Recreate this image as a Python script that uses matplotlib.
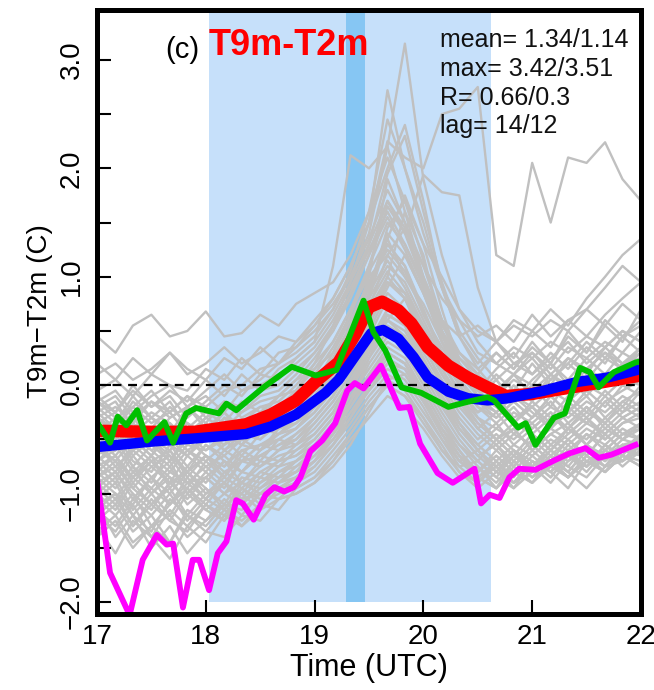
import numpy as np
import matplotlib
matplotlib.use('Agg')
import matplotlib.pyplot as plt

plt.rcParams['font.family'] = ['Liberation Sans', 'DejaVu Sans']

# common 10-minute time grid for the grey ensemble members
grey_times = [17.00, 17.17, 17.33, 17.50, 17.67, 17.83, 18.00, 18.17, 18.33, 18.50, 18.67,
              18.83, 19.00, 19.17, 19.33, 19.50, 19.67, 19.83, 20.00, 20.17, 20.33, 20.50,
              20.67, 20.83, 21.00, 21.17, 21.33, 21.50, 21.67, 21.83, 22.00]

grey_runs = [
    [0.45, 0.30, 0.55, 0.65, 0.45, 0.50, 0.68, 0.45, 0.48, 0.65, 0.55, 0.75, 0.85, 0.95, 1.20, 1.60, 2.10, 1.70, 1.30, 1.00, 0.70, 0.50, 0.40, 0.55, 0.45, 0.60, 0.50, 0.70, 0.55, 0.75, 0.60],
    [0.10, 0.20, 0.05, 0.15, 0.30, 0.10, 0.20, 0.35, 0.20, 0.30, 0.45, 0.40, 0.60, 0.80, 1.10, 1.50, 2.72, 2.00, 1.40, 0.90, 0.60, 0.30, 0.20, 0.35, 0.25, 0.40, 0.30, 0.45, 0.35, 0.50, 0.40],
    [-0.05, 0.05, -0.10, 0.10, 0.00, -0.05, 0.15, 0.05, 0.25, 0.10, 0.30, 0.35, 0.50, 0.70, 1.00, 1.40, 2.20, 3.15, 1.90, 1.20, 0.70, 0.40, 0.20, 0.10, 0.30, 0.15, 0.35, 0.25, 0.40, 0.30, 0.50],
    [-0.15, -0.25, -0.05, -0.20, -0.10, -0.30, -0.15, 0.00, -0.10, 0.10, 0.05, 0.25, 0.40, 1.10, 2.12, 2.00, 2.20, 1.60, 1.00, 0.60, 0.30, 0.10, -0.05, 0.10, 0.00, 0.20, 0.05, 0.25, 0.10, 0.30, 0.20],
    [-0.20, -0.10, -0.30, -0.15, -0.25, -0.10, -0.20, -0.05, 0.00, 0.15, 0.20, 0.35, 0.55, 0.80, 1.10, 1.50, 2.25, 2.10, 2.00, 2.50, 2.55, 2.75, 1.20, 1.10, 2.05, 1.50, 2.10, 2.05, 2.24, 1.90, 1.70],
    [-0.30, -0.40, -0.20, -0.35, -0.25, -0.45, -0.30, -0.20, -0.25, -0.10, -0.05, 0.10, 0.30, 0.50, 0.80, 1.20, 1.70, 1.40, 1.94, 1.78, 1.75, 0.90, 0.40, 0.20, 0.30, 0.10, 0.25, 0.15, 0.30, 0.20, 0.35],
    [-0.35, -0.25, -0.45, -0.30, -0.40, -0.35, -0.50, -0.30, -0.35, -0.20, -0.15, 0.00, 0.20, 0.40, 0.70, 1.10, 1.50, 1.30, 0.90, 0.50, 0.20, 0.00, -0.10, 0.05, -0.05, 0.10, 0.00, 0.15, 0.05, 0.20, 0.10],
    [-0.40, -0.55, -0.35, -0.50, -0.60, -0.40, -0.45, -0.55, -0.35, -0.40, -0.25, -0.15, 0.05, 0.25, 0.55, 0.90, 1.30, 1.10, 0.70, 0.30, 0.05, -0.15, -0.25, -0.10, -0.20, -0.05, -0.15, 0.00, -0.10, 0.05, 0.00],
    [-0.50, -0.40, -0.60, -0.45, -0.55, -0.65, -0.50, -0.40, -0.55, -0.35, -0.30, -0.20, 0.00, 0.20, 0.45, 0.80, 1.10, 0.95, 0.60, 0.25, 0.00, -0.20, -0.30, -0.15, -0.30, -0.10, -0.25, -0.05, -0.20, 0.00, -0.10],
    [-0.55, -0.70, -0.50, -0.65, -0.45, -0.60, -0.70, -0.55, -0.45, -0.50, -0.35, -0.30, -0.15, 0.05, 0.30, 0.60, 0.95, 0.80, 0.50, 0.15, -0.10, -0.30, -0.40, -0.25, -0.35, -0.20, -0.30, -0.15, -0.25, -0.10, -0.20],
    [-0.60, -0.50, -0.75, -0.55, -0.70, -0.50, -0.65, -0.75, -0.60, -0.55, -0.45, -0.40, -0.25, -0.05, 0.20, 0.50, 0.85, 0.70, 0.40, 0.10, -0.15, -0.35, -0.50, -0.35, -0.45, -0.30, -0.40, -0.25, -0.35, -0.20, -0.30],
    [-0.70, -0.85, -0.60, -0.75, -0.90, -0.65, -0.80, -0.60, -0.70, -0.55, -0.60, -0.45, -0.30, -0.10, 0.15, 0.40, 0.70, 0.60, 0.30, 0.00, -0.25, -0.45, -0.60, -0.45, -0.55, -0.40, -0.50, -0.35, -0.45, -0.30, -0.40],
    [-0.75, -0.65, -0.90, -0.70, -0.85, -0.95, -0.70, -0.85, -0.65, -0.75, -0.60, -0.55, -0.40, -0.20, 0.05, 0.35, 0.60, 0.45, 0.20, -0.10, -0.35, -0.55, -0.70, -0.55, -0.65, -0.50, -0.60, -0.45, -0.55, -0.40, -0.50],
    [-0.80, -0.95, -0.75, -1.00, -0.80, -0.90, -1.05, -0.80, -0.90, -0.70, -0.75, -0.60, -0.50, -0.30, -0.05, 0.25, 0.50, 0.40, 0.10, -0.20, -0.45, -0.65, -0.80, -0.65, -0.75, -0.60, -0.70, -0.55, -0.65, -0.50, -0.55],
    [-0.90, -0.80, -1.05, -0.85, -1.10, -0.90, -0.85, -1.00, -0.80, -0.85, -0.70, -0.65, -0.55, -0.35, -0.10, 0.15, 0.40, 0.30, 0.00, -0.30, -0.55, -0.75, -0.90, -0.70, -0.85, -0.65, -0.80, -0.60, -0.75, -0.55, -0.60],
    [-1.00, -1.15, -0.90, -1.10, -0.95, -1.20, -1.00, -0.90, -1.05, -0.85, -0.90, -0.75, -0.60, -0.40, -0.20, 0.05, 0.30, 0.20, -0.10, -0.40, -0.60, -0.85, -0.95, -0.75, -0.90, -0.70, -0.85, -0.65, -0.80, -0.60, -0.65],
    [-1.10, -1.00, -1.30, -1.05, -1.25, -1.00, -1.15, -1.25, -0.95, -1.05, -0.90, -0.80, -0.70, -0.50, -0.30, 0.00, 0.20, 0.10, -0.15, -0.45, -0.70, -0.80, -0.60, -0.75, -0.55, -0.70, -0.50, -0.65, -0.45, -0.60, -0.50],
    [-1.20, -1.35, -1.10, -1.40, -1.15, -1.30, -1.10, -1.25, -1.05, -1.00, -0.95, -0.85, -0.75, -0.55, -0.35, -0.10, 0.10, 0.00, -0.25, -0.50, -0.75, -0.70, -0.50, -0.65, -0.45, -0.60, -0.40, -0.55, -0.35, -0.50, -0.40],
    [-1.30, -1.55, -1.25, -1.40, -1.60, -1.30, -1.45, -1.20, -1.30, -1.10, -1.15, -0.95, -0.85, -0.65, -0.45, -0.20, 0.00, -0.10, -0.30, -0.55, -0.80, -0.95, -0.80, -0.90, -0.70, -0.85, -0.65, -0.80, -0.60, -0.75, -0.60],
    [-1.10, -1.40, -1.20, -1.50, -1.30, -1.55, -1.35, -1.40, -1.20, -1.25, -1.05, -1.00, -0.90, -0.70, -0.50, -0.30, -0.10, -0.20, -0.40, -0.65, -0.85, -0.75, -0.95, -0.80, -0.90, -0.75, -0.85, -0.70, -0.80, -0.65, -0.70],
    [-0.45, -0.30, -0.55, -0.40, -0.20, -0.35, -0.45, -0.25, -0.40, -0.30, -0.10, 0.05, 0.15, 0.40, 0.70, 1.00, 1.20, 1.45, 1.10, 0.60, 0.25, 0.10, 0.30, 0.15, 0.40, 0.20, 0.50, 0.30, 0.60, 0.45, 0.55],
    [-0.65, -0.80, -0.55, -0.70, -0.60, -0.85, -0.65, -0.75, -0.55, -0.60, -0.40, -0.35, -0.20, 0.00, 0.25, 0.55, 0.90, 1.20, 0.85, 0.45, 0.15, -0.10, 0.10, -0.05, 0.20, 0.00, 0.25, 0.10, 0.35, 0.20, 0.30],
    [-0.25, -0.40, -0.15, -0.30, -0.45, -0.20, -0.35, -0.15, -0.30, -0.20, -0.25, -0.10, 0.10, 0.35, 0.65, 1.05, 1.35, 1.00, 0.75, 0.40, 0.10, -0.05, -0.20, 0.00, -0.15, 0.10, -0.05, 0.15, 0.00, 0.20, 0.25],
    [-0.85, -0.70, -0.95, -0.75, -0.65, -0.90, -0.75, -0.65, -0.80, -0.65, -0.55, -0.50, -0.35, -0.15, 0.10, 0.45, 0.80, 0.65, 0.35, 0.05, -0.20, -0.40, -0.55, -0.40, -0.60, -0.45, -0.55, -0.40, -0.50, -0.35, -0.30],
    [-0.95, -1.10, -0.85, -1.00, -1.20, -0.95, -1.10, -0.90, -1.00, -0.80, -0.85, -0.70, -0.55, -0.35, -0.15, 0.10, 0.35, 0.25, -0.05, -0.35, -0.60, -0.80, -0.65, -0.80, -0.60, -0.75, -0.55, -0.70, -0.60, -0.45, -0.50],
    [-0.30, -0.20, -0.35, -0.15, -0.30, -0.20, -0.10, -0.25, -0.05, 0.00, 0.10, 0.20, 0.35, 0.60, 0.90, 1.25, 1.60, 1.30, 0.95, 0.60, 0.45, 0.55, 0.40, 0.60, 0.50, 0.70, 0.55, 0.80, 1.00, 1.20, 1.35],
    [0.20, 0.05, 0.25, 0.10, 0.30, 0.15, 0.05, 0.25, 0.15, 0.35, 0.20, 0.40, 0.55, 0.75, 1.00, 1.35, 1.80, 1.50, 1.10, 0.80, 0.60, 0.45, 0.55, 0.40, 0.65, 0.45, 0.60, 0.70, 0.90, 1.10, 0.95],
    [-0.50, -0.65, -0.45, -0.60, -0.75, -0.55, -0.60, -0.45, -0.55, -0.40, -0.45, -0.30, -0.10, 0.10, 0.40, 0.75, 1.05, 0.85, 0.55, 0.20, -0.05, -0.25, -0.10, -0.30, -0.20, -0.35, -0.15, -0.30, -0.10, -0.25, -0.05],
    [-0.15, -0.30, -0.20, -0.05, -0.25, -0.10, -0.30, -0.15, -0.20, -0.05, 0.00, 0.15, 0.30, 0.55, 0.85, 1.30, 1.95, 2.30, 1.60, 0.95, 0.50, 0.25, 0.05, 0.20, 0.10, 0.30, 0.15, 0.35, 0.20, 0.45, 0.30],
    [-1.05, -0.90, -1.20, -1.00, -0.85, -1.10, -0.95, -1.15, -0.90, -0.95, -0.80, -0.70, -0.60, -0.45, -0.25, -0.05, 0.20, 0.15, -0.10, -0.40, -0.65, -0.85, -0.95, -0.70, -0.85, -0.75, -0.60, -0.75, -0.55, -0.65, -0.45],
    [-0.20, -0.35, -0.10, -0.30, -0.15, -0.40, -0.25, -0.35, -0.15, -0.25, -0.10, -0.05, 0.15, 0.30, 0.60, 0.95, 1.25, 1.05, 0.65, 0.35, 0.10, -0.10, 0.05, -0.15, 0.00, -0.20, 0.05, -0.10, 0.10, 0.00, 0.15],
    [-0.60, -0.45, -0.70, -0.80, -0.55, -0.75, -0.55, -0.70, -0.80, -0.60, -0.50, -0.55, -0.35, -0.15, 0.10, 0.40, 0.65, 0.55, 0.25, -0.05, -0.30, -0.50, -0.35, -0.55, -0.40, -0.25, -0.45, -0.30, -0.50, -0.35, -0.25],
    [-0.85, -1.00, -1.10, -0.85, -1.00, -0.80, -0.95, -1.10, -0.85, -0.90, -0.75, -0.70, -0.55, -0.40, -0.15, 0.20, 0.45, 0.35, 0.05, -0.25, -0.50, -0.70, -0.85, -0.95, -0.70, -0.80, -0.95, -0.70, -0.80, -0.65, -0.75],
    [-1.25, -1.10, -1.35, -1.20, -1.45, -1.15, -1.25, -1.05, -1.20, -1.00, -1.05, -0.90, -0.80, -0.60, -0.40, -0.15, 0.05, -0.05, -0.30, -0.60, -0.75, -0.90, -0.70, -0.85, -0.65, -0.80, -0.60, -0.75, -0.55, -0.70, -0.55],
    [-0.40, -0.60, -0.30, -0.50, -0.35, -0.55, -0.40, -0.60, -0.45, -0.30, -0.35, -0.20, -0.05, 0.20, 0.50, 0.85, 1.15, 0.90, 0.55, 0.20, -0.05, -0.25, -0.15, -0.35, -0.20, -0.40, -0.25, -0.10, -0.30, -0.15, -0.05],
    [-0.70, -0.55, -0.80, -0.65, -0.95, -0.75, -0.90, -0.70, -0.80, -0.65, -0.70, -0.55, -0.45, -0.25, 0.00, 0.30, 0.55, 0.45, 0.15, -0.15, -0.40, -0.60, -0.45, -0.60, -0.75, -0.55, -0.65, -0.45, -0.60, -0.45, -0.40],
    [-0.95, -0.80, -1.00, -1.15, -0.90, -1.05, -0.85, -1.00, -1.10, -0.90, -0.80, -0.75, -0.65, -0.45, -0.20, 0.10, 0.30, 0.20, -0.05, -0.35, -0.55, -0.70, -0.85, -0.65, -0.80, -0.60, -0.75, -0.85, -0.65, -0.55, -0.60],
    [-0.30, -0.45, -0.25, -0.50, -0.30, -0.20, -0.40, -0.25, -0.45, -0.30, -0.20, -0.10, 0.05, 0.25, 0.55, 0.90, 1.40, 1.20, 0.85, 0.40, 0.15, -0.05, 0.15, 0.30, 0.10, 0.25, 0.40, 0.20, 0.35, 0.50, 0.40],
    [-1.15, -1.30, -1.05, -1.20, -1.00, -1.25, -1.05, -1.15, -0.95, -1.10, -0.90, -0.85, -0.70, -0.55, -0.30, -0.05, 0.15, 0.05, -0.20, -0.50, -0.70, -0.60, -0.80, -0.60, -0.75, -0.90, -0.70, -0.60, -0.75, -0.55, -0.65],
    [-0.55, -0.40, -0.65, -0.50, -0.70, -0.45, -0.60, -0.50, -0.65, -0.45, -0.40, -0.25, -0.10, 0.15, 0.45, 0.70, 1.00, 0.80, 0.45, 0.10, -0.15, -0.40, -0.25, -0.45, -0.30, -0.15, -0.35, -0.20, -0.40, -0.25, -0.15],
    [-0.75, -0.90, -0.65, -0.85, -0.70, -1.00, -0.80, -0.95, -0.70, -0.75, -0.65, -0.60, -0.45, -0.25, 0.05, 0.35, 0.60, 0.50, 0.20, -0.10, -0.35, -0.55, -0.40, -0.50, -0.35, -0.55, -0.40, -0.50, -0.30, -0.45, -0.35],
    [-1.00, -0.85, -1.15, -0.95, -1.10, -0.85, -1.05, -0.90, -1.10, -0.95, -0.85, -0.80, -0.65, -0.50, -0.25, 0.00, 0.25, 0.15, -0.15, -0.40, -0.65, -0.85, -0.70, -0.90, -0.80, -0.65, -0.80, -0.95, -0.75, -0.70, -0.55],
    [-0.10, -0.25, 0.00, -0.20, -0.05, -0.15, 0.05, -0.10, 0.10, -0.05, 0.15, 0.25, 0.40, 0.65, 0.95, 1.30, 1.70, 1.45, 1.00, 0.55, 0.30, 0.15, 0.30, 0.15, 0.35, 0.20, 0.45, 0.30, 0.55, 0.40, 0.70],
    [-0.45, -0.60, -0.40, -0.55, -0.45, -0.60, -0.50, -0.35, -0.50, -0.40, -0.30, -0.25, -0.05, 0.20, 0.50, 0.95, 1.30, 1.10, 0.65, 0.30, 0.05, -0.15, -0.30, -0.15, -0.30, -0.10, -0.25, -0.35, -0.15, -0.05, 0.05],
    [-1.40, -1.25, -1.50, -1.30, -1.45, -1.20, -1.35, -1.15, -1.25, -1.10, -1.00, -0.95, -0.85, -0.70, -0.45, -0.20, 0.00, -0.10, -0.35, -0.60, -0.80, -0.90, -0.75, -0.90, -0.70, -0.80, -0.65, -0.75, -0.60, -0.70, -0.60],
    [-0.90, -1.05, -0.80, -0.95, -0.75, -1.00, -0.85, -0.70, -0.90, -0.75, -0.60, -0.50, -0.30, -0.10, 0.20, 0.60, 1.00, 1.60, 1.20, 0.50, 0.00, -0.30, -0.50, -0.40, -0.60, -0.45, -0.35, -0.55, -0.40, -0.50, -0.35],
    [-0.65, -0.50, -0.75, -0.90, -0.60, -0.80, -0.65, -0.85, -0.60, -0.70, -0.50, -0.40, -0.20, 0.10, 0.50, 1.00, 1.90, 1.50, 0.90, 0.40, 0.05, -0.20, -0.35, -0.20, -0.40, -0.25, -0.40, -0.20, -0.35, -0.15, -0.25],
    [-1.20, -1.05, -1.30, -1.10, -1.25, -1.35, -1.10, -1.20, -1.00, -1.15, -0.95, -0.85, -0.70, -0.45, -0.15, 0.25, 0.60, 0.80, 0.40, 0.00, -0.35, -0.60, -0.75, -0.60, -0.80, -0.65, -0.75, -0.55, -0.70, -0.55, -0.65],
    [-0.35, -0.50, -0.25, -0.45, -0.55, -0.35, -0.50, -0.30, -0.45, -0.25, -0.20, -0.05, 0.20, 0.55, 0.95, 1.50, 2.00, 2.40, 1.70, 0.90, 0.45, 0.15, -0.05, 0.10, -0.10, 0.05, 0.20, 0.05, 0.25, 0.15, 0.35],
    [-0.80, -0.65, -0.85, -0.70, -0.90, -0.80, -0.65, -0.80, -0.70, -0.55, -0.50, -0.40, -0.25, 0.00, 0.30, 0.70, 1.20, 1.00, 0.70, 0.25, -0.10, -0.35, -0.50, -0.65, -0.45, -0.60, -0.45, -0.30, -0.45, -0.30, -0.20],
    [-1.05, -1.20, -1.00, -1.30, -1.10, -0.95, -1.15, -1.00, -0.90, -1.00, -0.85, -0.80, -0.60, -0.35, -0.05, 0.30, 0.65, 0.55, 0.20, -0.15, -0.45, -0.65, -0.55, -0.75, -0.55, -0.70, -0.85, -0.65, -0.75, -0.60, -0.45],
    [-0.55, -0.75, -0.60, -0.50, -0.65, -0.80, -0.55, -0.65, -0.50, -0.60, -0.45, -0.35, -0.20, 0.05, 0.35, 0.80, 1.35, 1.75, 1.30, 0.70, 0.20, -0.10, -0.25, -0.10, -0.25, -0.40, -0.20, -0.35, -0.15, -0.30, -0.20],
    [-1.35, -1.20, -1.45, -1.30, -1.20, -1.40, -1.25, -1.10, -1.30, -1.15, -1.05, -1.00, -0.90, -0.75, -0.55, -0.25, 0.05, 0.10, -0.15, -0.45, -0.70, -0.85, -0.75, -0.95, -0.80, -0.70, -0.85, -0.70, -0.80, -0.65, -0.75],
    [-0.15, -0.05, -0.25, -0.10, 0.00, -0.20, -0.05, 0.10, -0.05, 0.05, 0.20, 0.30, 0.45, 0.70, 1.05, 1.60, 2.45, 2.00, 1.50, 0.90, 0.45, 0.20, 0.40, 0.25, 0.50, 0.35, 0.60, 0.45, 0.65, 0.80, 0.95],
    [-0.60, -0.70, -0.85, -0.65, -0.80, -0.60, -0.75, -0.90, -0.70, -0.65, -0.55, -0.45, -0.30, -0.10, 0.20, 0.55, 0.95, 0.85, 0.50, 0.15, -0.15, -0.40, -0.55, -0.70, -0.50, -0.65, -0.50, -0.65, -0.45, -0.60, -0.45],
    [-0.25, -0.15, -0.40, -0.25, -0.35, -0.50, -0.30, -0.40, -0.25, -0.15, -0.10, 0.05, 0.25, 0.50, 0.85, 1.20, 1.55, 1.25, 0.85, 0.50, 0.25, 0.05, -0.10, 0.10, 0.25, 0.05, 0.20, 0.40, 0.25, 0.45, 0.60],
    [-0.85, -0.75, -0.95, -1.10, -0.90, -0.80, -1.00, -0.85, -0.95, -0.80, -0.70, -0.65, -0.50, -0.30, 0.00, 0.35, 0.70, 0.60, 0.25, -0.10, -0.40, -0.60, -0.75, -0.60, -0.70, -0.85, -0.65, -0.75, -0.60, -0.70, -0.50],
    [-0.45, -0.35, -0.50, -0.65, -0.40, -0.55, -0.35, -0.50, -0.40, -0.50, -0.35, -0.25, -0.10, 0.15, 0.45, 0.85, 1.45, 1.70, 1.15, 0.60, 0.15, -0.10, -0.20, -0.35, -0.15, -0.30, -0.10, -0.25, -0.05, -0.20, 0.00],
    [-1.15, -1.00, -1.20, -1.35, -1.05, -1.20, -1.30, -1.10, -1.15, -1.00, -0.95, -0.90, -0.75, -0.55, -0.30, 0.00, 0.30, 0.20, -0.10, -0.45, -0.65, -0.80, -0.65, -0.80, -0.90, -0.70, -0.80, -0.60, -0.70, -0.55, -0.50],
    [-0.70, -0.60, -0.45, -0.60, -0.50, -0.65, -0.45, -0.60, -0.50, -0.40, -0.30, -0.20, 0.00, 0.30, 0.65, 1.10, 1.65, 1.40, 0.95, 0.50, 0.15, -0.10, 0.05, -0.15, 0.05, 0.20, 0.00, 0.15, 0.30, 0.15, 0.30],
]

red_t = [17.0, 17.5, 17.9, 18.37, 18.6, 18.83, 19.04, 19.22, 19.38, 19.5, 19.62, 19.77, 19.89,
         20.04, 20.23, 20.41, 20.59, 20.76, 21.0, 21.3, 21.6, 22.0]
red_v = [-0.42, -0.43, -0.43, -0.36, -0.27, -0.14, 0.06, 0.21, 0.48, 0.72, 0.77, 0.69, 0.57,
         0.35, 0.18, 0.07, -0.02, -0.10, -0.08, -0.03, 0.02, 0.09]

blue_t = [17.0, 17.5, 17.91, 18.37, 18.6, 18.83, 19.1, 19.22, 19.38, 19.52, 19.63, 19.77, 19.91,
          20.04, 20.23, 20.41, 20.59, 20.78, 21.11, 21.41, 21.69, 22.0]
blue_v = [-0.57, -0.52, -0.49, -0.45, -0.38, -0.27, -0.07, 0.05, 0.28, 0.48, 0.51, 0.43, 0.26,
          0.07, -0.06, -0.12, -0.14, -0.12, -0.05, 0.03, 0.07, 0.15]

green_t = [17.0, 17.12, 17.19, 17.27, 17.37, 17.46, 17.62, 17.70, 17.82, 17.91, 18.12, 18.19, 18.28,
           18.53, 18.79, 19.01, 19.20, 19.45, 19.54, 19.65, 19.80, 19.98, 20.23, 20.38, 20.59,
           20.65, 20.87, 20.94, 21.03, 21.20, 21.30, 21.44, 21.53, 21.61, 21.75, 21.84, 21.95, 22.0]
green_v = [-0.34, -0.53, -0.29, -0.37, -0.23, -0.51, -0.34, -0.53, -0.26, -0.21, -0.26, -0.17, -0.23,
           -0.02, 0.17, 0.09, 0.14, 0.78, 0.49, 0.32, -0.02, -0.07, -0.20, -0.16, -0.11,
           -0.14, -0.39, -0.35, -0.55, -0.30, -0.26, 0.16, 0.12, -0.02, 0.12, 0.16, 0.21, 0.22]

magenta_t = [17.0, 17.12, 17.30, 17.42, 17.55, 17.64, 17.70, 17.79, 17.88, 17.94, 18.03, 18.11, 18.19,
             18.28, 18.34, 18.44, 18.55, 18.63, 18.72, 18.81, 18.87, 18.96, 19.07, 19.19, 19.30,
             19.37, 19.45, 19.61, 19.78, 19.87, 19.97, 20.13, 20.27, 20.47, 20.53, 20.61, 20.70,
             20.79, 20.88, 21.03, 21.21, 21.34, 21.49, 21.61, 21.73, 21.95]
magenta_v = [-0.86, -1.73, -2.12, -1.61, -1.38, -1.47, -1.46, -2.05, -1.61, -1.61, -1.89, -1.55, -1.44,
             -1.06, -1.09, -1.24, -1.01, -0.94, -0.98, -0.94, -0.85, -0.61, -0.51, -0.35, -0.05,
             0.02, -0.03, 0.18, -0.21, -0.20, -0.54, -0.81, -0.90, -0.77, -1.09, -1.01, -1.04,
             -0.85, -0.77, -0.78, -0.69, -0.63, -0.58, -0.67, -0.64, -0.55]

shade_span = (18.03, 20.62)
peak_span = (19.29, 19.46)

xtick_values = [17, 18, 19, 20, 21, 22]
ytick_values = [-2.0, -1.5, -1.0, -0.5, 0.0, 0.5, 1.0, 1.5, 2.0, 2.5, 3.0]
ytick_labels = ['\u22122.0', '', '\u22121.0', '', '0.0', '', '1.0', '', '2.0', '', '3.0']

stats_lines = ['mean= 1.34/1.14', 'max= 3.42/3.51', 'R= 0.66/0.3', 'lag= 14/12']

fig = plt.figure(figsize=(6.54, 6.9), dpi=100)
ax = fig.add_axes([0.1483, 0.1101, 0.8318, 0.8754])
ax.set_xlim(17, 22)
ax.set_ylim(-2.11, 3.46)

# shaded periods
ax.fill_between(shade_span, -2.0, 3.46, color='#c6e0fa', lw=0, zorder=0)
ax.fill_between(peak_span, -2.0, 3.46, color='#86c6f3', lw=0, zorder=0.5)

for run in grey_runs:
    ax.plot(grey_times, run, color='#c0c0c0', lw=1.7, zorder=1)

ax.axhline(0, color='black', lw=1.6, ls=(0, (4, 3)), zorder=2)

ax.plot(red_t, red_v, color='#ff0000', lw=9, solid_capstyle='butt', zorder=3)
ax.plot(blue_t, blue_v, color='#0000ff', lw=7.5, solid_capstyle='butt', zorder=4)
ax.plot(magenta_t, magenta_v, color='#ff00ff', lw=4.2, zorder=5)
ax.plot(green_t, green_v, color='#00c000', lw=4.2, zorder=6)

for side in ax.spines.values():
    side.set_linewidth(3.6)
    side.set_zorder(10)

ax.set_xticks(xtick_values)
ax.set_xticklabels([str(v) for v in xtick_values])
ax.set_yticks(ytick_values)
ax.set_yticklabels(ytick_labels, rotation=90, va='center')
ax.tick_params(axis='both', direction='in', length=10, width=1.5, labelsize=20)
ax.tick_params(axis='x', pad=7)
ax.tick_params(axis='y', pad=9)

ax.text(0.125, 0.934, '(c)', transform=ax.transAxes, fontsize=21, va='center', ha='left')
ax.text(0.205, 0.942, 'T9m-T2m', transform=ax.transAxes, fontsize=26, fontweight='bold',
        color='#ff0000', va='center', ha='left')

baselines_px = [47, 76, 105, 133]
for line, ypx in zip(stats_lines, baselines_px):
    fig.text(440 / 654, 1 - ypx / 690, line, fontsize=18, va='baseline', ha='left', color='#111111')

fig.text(369 / 654, 1 - 668 / 690, 'Time (UTC)', fontsize=22, ha='center', va='center')
fig.text(40 / 654, 1 - 311 / 690, 'T9m\u2212T2m (C)', fontsize=20, rotation=90, ha='center', va='center')

fig.savefig('out.png', dpi=100)
